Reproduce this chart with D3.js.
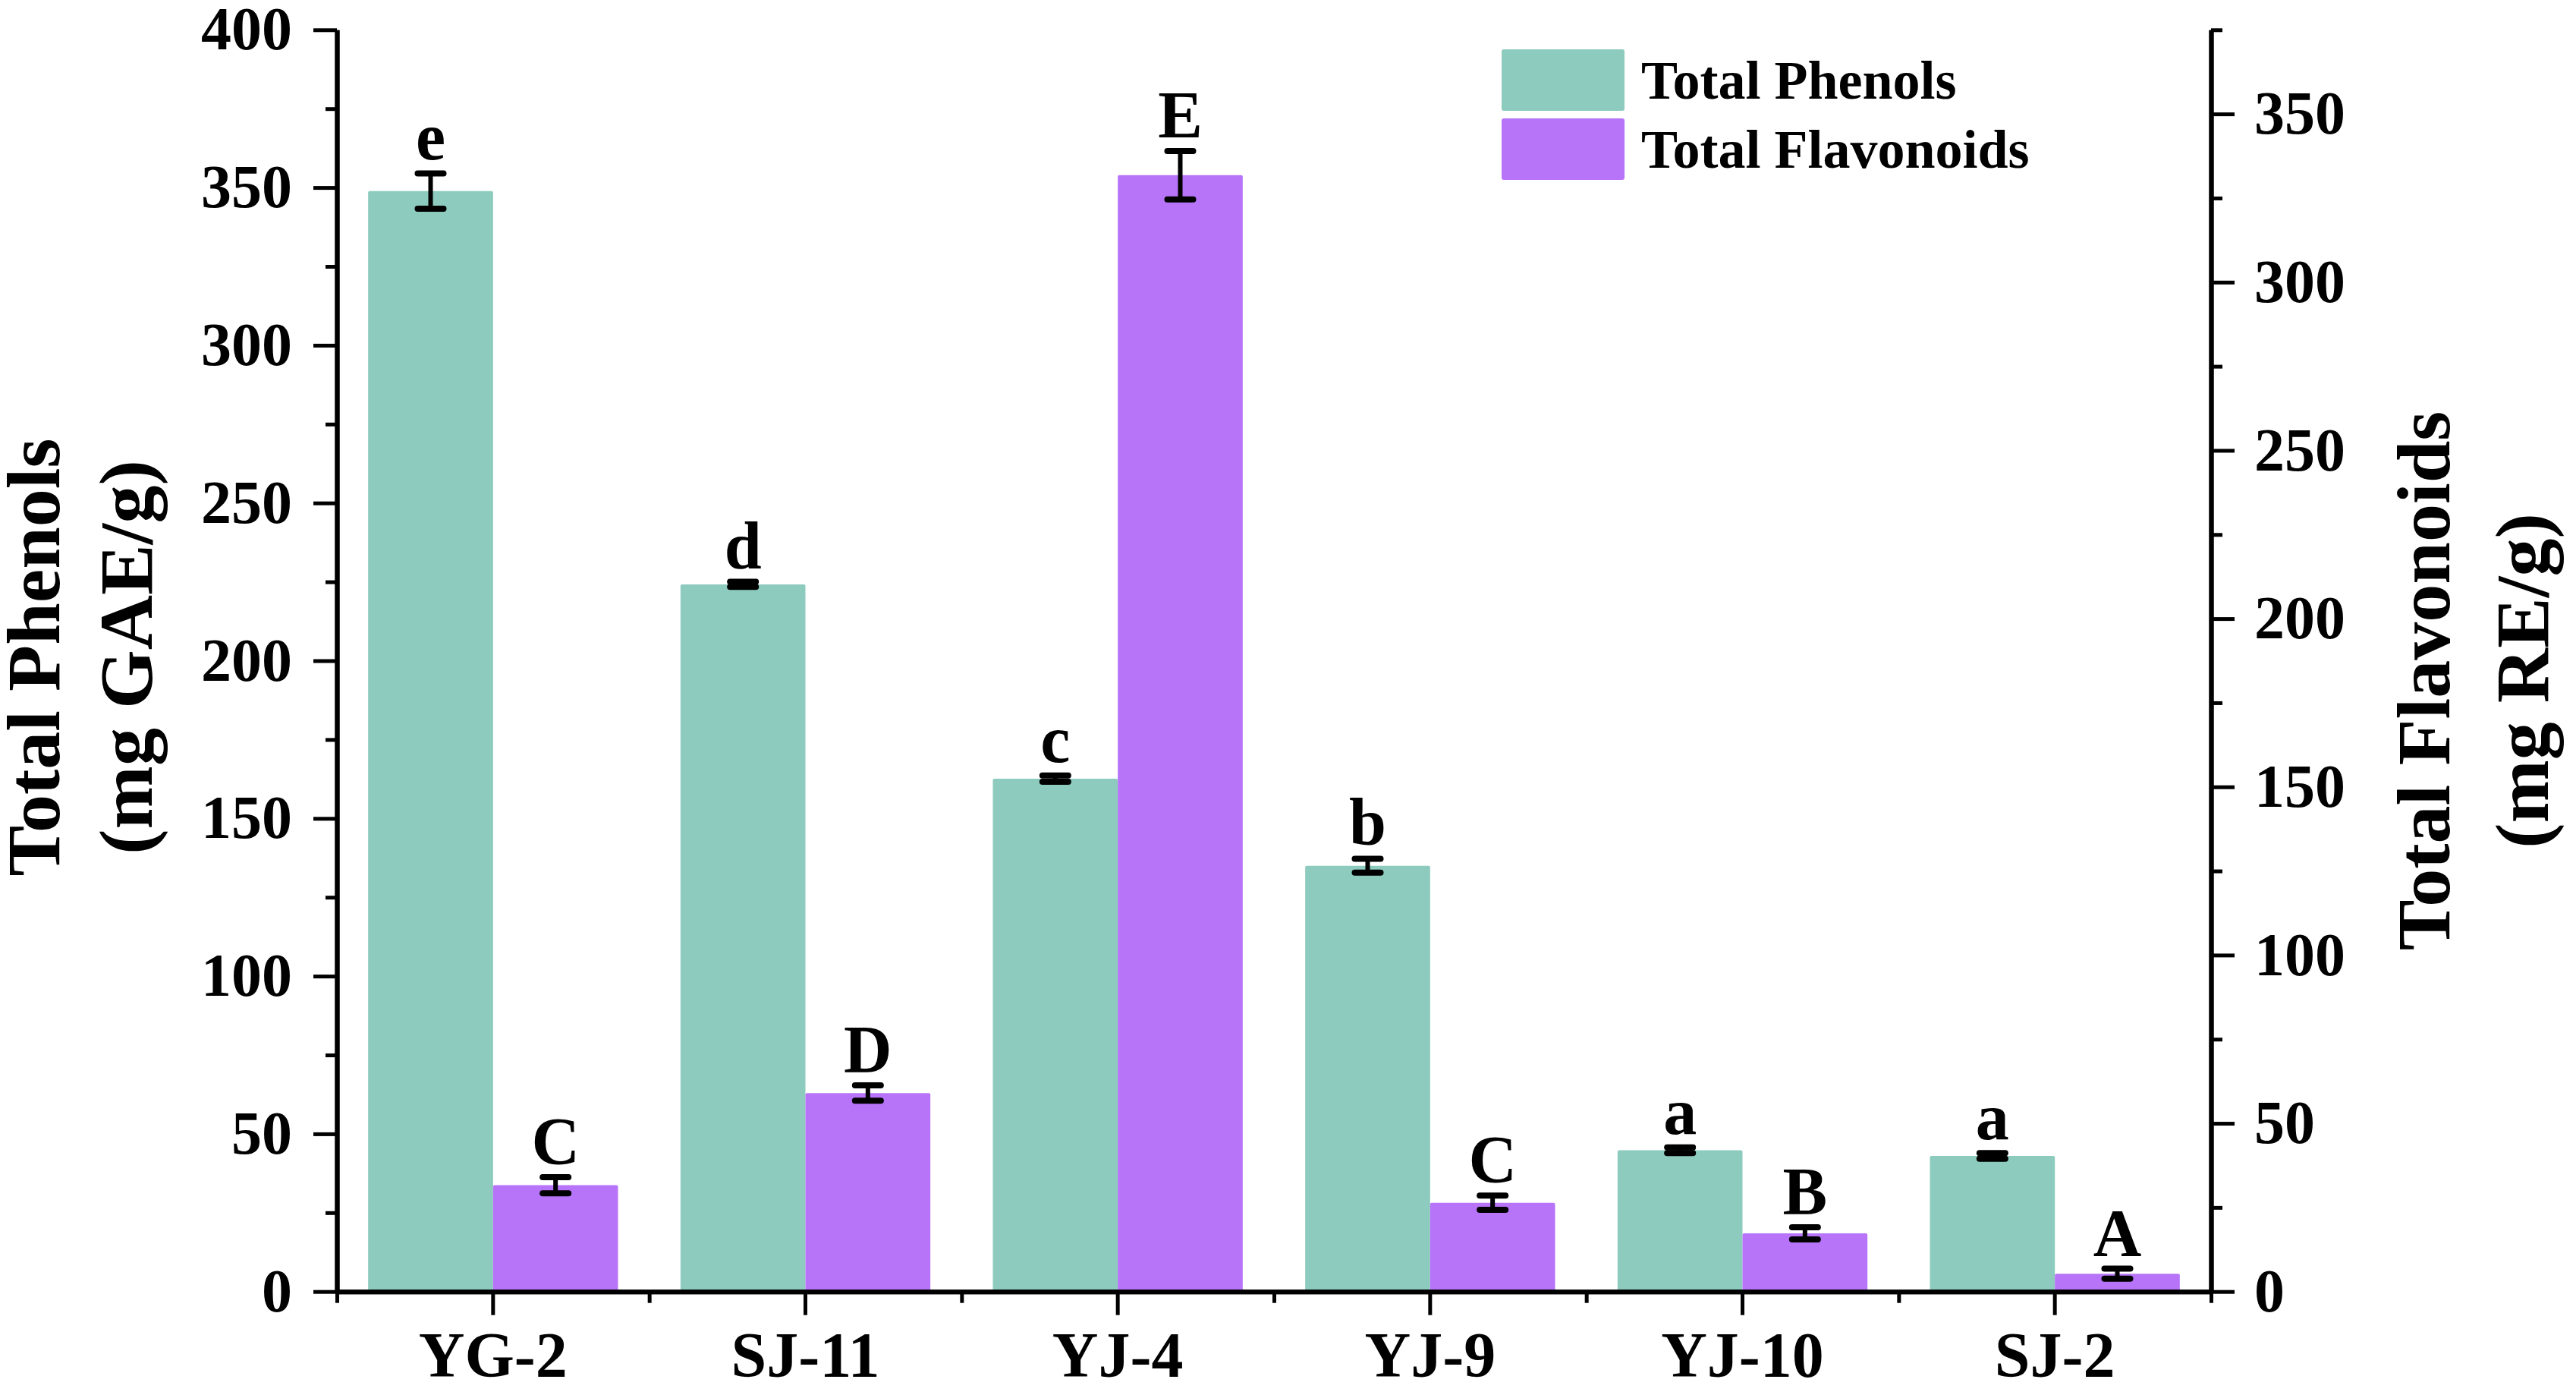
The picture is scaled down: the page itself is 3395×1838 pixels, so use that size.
<!DOCTYPE html>
<html>
<head>
<meta charset="utf-8">
<script src="https://cdn.jsdelivr.net/npm/d3@7"></script>
<style>
  body { margin: 0; background: #fff; }
  text { font-family: "Liberation Serif", "Times New Roman", serif; font-weight: bold; fill: #000; }
</style>
</head>
<body>
<div id="root"></div>
<script>
var width = 3395;
var height = 1838;

// data
var categories = ['YG-2', 'SJ-11', 'YJ-4', 'YJ-9', 'YJ-10', 'SJ-2'];
var phenols = [348.9, 224.2, 162.6, 135.0, 44.8, 43.0];
var phenolsErr = [5.6, 0.8, 1.0, 2.2, 0.9, 0.9];
var flavonoids = [31.6, 59.0, 331.8, 26.4, 17.3, 5.3];
var flavonoidsErr = [2.4, 2.3, 7.2, 2.1, 1.8, 1.5];
var phenolLetters = ['e', 'd', 'c', 'b', 'a', 'a'];
var flavonoidLetters = ['C', 'D', 'E', 'C', 'B', 'A'];
var leftTicks = [0, 50, 100, 150, 200, 250, 300, 350, 400];
var rightTicks = [0, 50, 100, 150, 200, 250, 300, 350];
var seriesNames = ['Total Phenols', 'Total Flavonoids'];
var colors = ['#8dcbbe', '#b774f9'];

var plot = { left: 444, right: 2914, top: 39.3, bottom: 1701.7 };

var svg = d3.select('#root')
    .append('svg')
    .attr('width', width).attr('height', height);

var xScale = d3.scaleBand()
    .domain(categories)
    .range([plot.left, plot.right]);
var xInner = d3.scaleBand()
    .domain([0, 1])
    .range([0, xScale.bandwidth()])
    .paddingOuter(0.25);
var yLeft = d3.scaleLinear().domain([0, 400]).range([plot.bottom, plot.top]);
var yRight = d3.scaleLinear().domain([0, 375]).range([plot.bottom, plot.top]);
var xEdges = d3.scaleLinear().domain([0, categories.length]).range([plot.left, plot.right]);

// rows built from the arrays
var rows = [];
categories.forEach(function (c, i) {
    rows.push({ cat: c, s: 0, v: phenols[i], e: phenolsErr[i], lab: phenolLetters[i], y: yLeft });
    rows.push({ cat: c, s: 1, v: flavonoids[i], e: flavonoidsErr[i], lab: flavonoidLetters[i], y: yRight });
});

svg.selectAll('.bar')
    .data(rows).enter()
    .append('rect')
    .attr('class', 'bar')
    .attr('x', function (d) { return xScale(d.cat) + xInner(d.s); })
    .attr('y', function (d) { return d.y(d.v); })
    .attr('width', xInner.bandwidth())
    .attr('height', function (d) { return plot.bottom - d.y(d.v); })
    .attr('rx', 2)
    .attr('fill', function (d) { return colors[d.s]; });

// error bars
var cx = function (d) { return xScale(d.cat) + xInner(d.s) + xInner.bandwidth() / 2; };
var err = svg.append('g').attr('stroke', '#000').attr('stroke-linecap', 'round');
err.selectAll('.ev').data(rows).enter().append('line')
    .attr('x1', cx).attr('x2', cx)
    .attr('y1', function (d) { return d.y(d.v - d.e); })
    .attr('y2', function (d) { return d.y(d.v + d.e); })
    .attr('stroke-width', 6);
err.selectAll('.et').data(rows).enter().append('line')
    .attr('x1', function (d) { return cx(d) - 17; }).attr('x2', function (d) { return cx(d) + 17; })
    .attr('y1', function (d) { return d.y(d.v + d.e); })
    .attr('y2', function (d) { return d.y(d.v + d.e); })
    .attr('stroke-width', 8);
err.selectAll('.eb').data(rows).enter().append('line')
    .attr('x1', function (d) { return cx(d) - 17; }).attr('x2', function (d) { return cx(d) + 17; })
    .attr('y1', function (d) { return d.y(d.v - d.e); })
    .attr('y2', function (d) { return d.y(d.v - d.e); })
    .attr('stroke-width', 8);

// significance letters
svg.selectAll('.lab')
    .data(rows).enter()
    .append('text')
    .attr('x', cx)
    .attr('y', function (d) { return d.y(d.v + d.e) - 18; })
    .attr('text-anchor', 'middle')
    .style('font-size', '88px')
    .text(function (d) { return d.lab; });

// axes
function styleAxis(g, fontSize) {
    g.select('.domain').attr('stroke-width', 6).attr('stroke', '#000');
    g.selectAll('.tick line').attr('stroke-width', 5).attr('stroke', '#000');
    g.selectAll('.tick text')
        .style('font-family', '"Liberation Serif", "Times New Roman", serif')
        .style('font-weight', 'bold')
        .style('font-size', fontSize + 'px');
    g.attr('font-size', null).attr('font-family', null);
}

var gl = svg.append('g').attr('transform', 'translate(' + plot.left + ',0)')
    .call(d3.axisLeft(yLeft).tickValues(leftTicks).tickSize(31).tickSizeOuter(0).tickPadding(28));
styleAxis(gl, 80);
var glm = svg.append('g').attr('transform', 'translate(' + plot.left + ',0)')
    .call(d3.axisLeft(yLeft).tickValues(d3.range(25, 400, 50)).tickSize(15).tickSizeOuter(0).tickFormat(''));
styleAxis(glm, 80);

var gr = svg.append('g').attr('transform', 'translate(' + plot.right + ',0)')
    .call(d3.axisRight(yRight).tickValues(rightTicks).tickSize(31).tickSizeOuter(0).tickPadding(26));
styleAxis(gr, 80);
var grm = svg.append('g').attr('transform', 'translate(' + plot.right + ',0)')
    .call(d3.axisRight(yRight).tickValues(d3.range(25, 376, 50)).tickSize(15).tickSizeOuter(0).tickFormat(''));
styleAxis(grm, 80);

var gbm = svg.append('g').attr('transform', 'translate(0,' + plot.bottom + ')')
    .call(d3.axisBottom(xEdges).tickValues(d3.range(0, categories.length + 1)).tickSize(15).tickSizeOuter(0).tickFormat(''));
styleAxis(gbm, 84);
var gb = svg.append('g').attr('transform', 'translate(0,' + plot.bottom + ')')
    .call(d3.axisBottom(xScale).tickSize(31).tickSizeOuter(0).tickPadding(22));
styleAxis(gb, 84);

// axis titles
var lt = svg.append('text')
    .attr('transform', 'translate(78,866) rotate(-90)')
    .attr('text-anchor', 'middle')
    .style('font-size', '100px');
lt.append('tspan').attr('x', 0).attr('y', 0).text('Total Phenols');
lt.append('tspan').attr('x', 0).attr('y', 122).text('(mg GAE/g)');

var rt = svg.append('text')
    .attr('transform', 'translate(3228,897) rotate(-90)')
    .attr('text-anchor', 'middle')
    .style('font-size', '100px');
rt.append('tspan').attr('x', 0).attr('y', 0).text('Total Flavonoids');
rt.append('tspan').attr('x', 0).attr('y', 130).text('(mg RE/g)');

// legend
var legend = svg.append('g').attr('transform', 'translate(1979,65)');
var leg = legend.selectAll('.leg').data(seriesNames).enter().append('g')
    .attr('transform', function (d, i) { return 'translate(0,' + (i * 91) + ')'; });
leg.append('rect')
    .attr('width', 162).attr('height', 81).attr('rx', 3)
    .attr('fill', function (d, i) { return colors[i]; });
leg.append('text')
    .attr('x', 184).attr('y', 65)
    .style('font-size', '72px')
    .text(function (d) { return d; });
</script>
</body>
</html>
